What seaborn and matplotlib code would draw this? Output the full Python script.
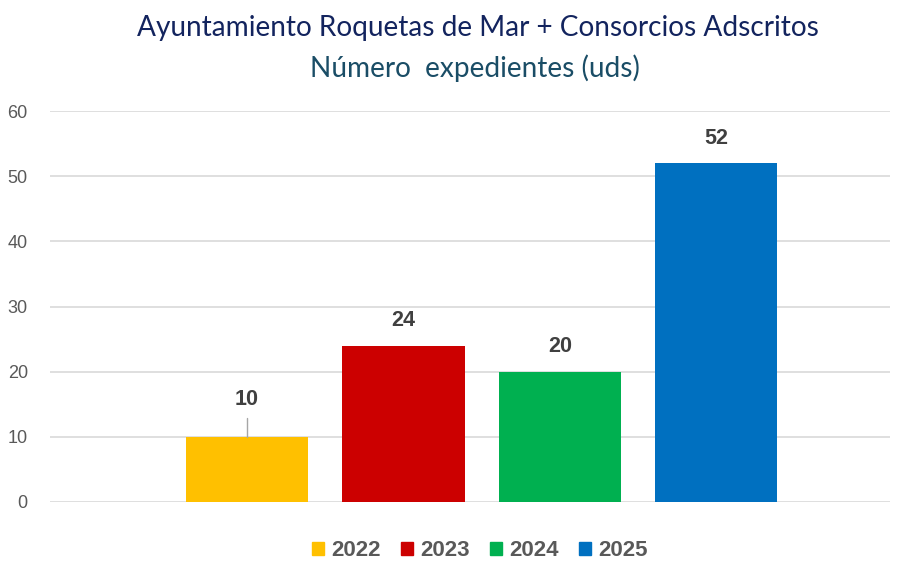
import matplotlib
matplotlib.use("Agg")
import matplotlib.pyplot as plt
import matplotlib.patches as mpatches
import seaborn as sns

years = ["2022", "2023", "2024", "2025"]
expedientes = [10, 24, 20, 52]
colors = ["#FFC000", "#CC0000", "#00B050", "#0070C0"]
title_1 = "Ayuntamiento Roquetas de Mar + Consorcios Adscritos"
title_2 = "Número  expedientes (uds)"

sns.set_style("white")
plt.rcParams["font.family"] = ["Liberation Sans", "DejaVu Sans"]

fig = plt.figure(figsize=(9.02, 5.62), dpi=100)
ax = fig.add_axes([50 / 902, 1 - 502 / 562, 840 / 902, 391 / 562])

sns.barplot(x=years, y=expedientes, hue=years, palette=colors,
            width=0.78, legend=False, ax=ax, saturation=1, linewidth=0)

ax.set_ylim(0, 60)
ax.set_xlim(-1.259, 4.109)
ax.set_yticks(range(0, 61, 10))
ax.yaxis.grid(True, color="#D9D9D9", linewidth=1.2)
ax.set_axisbelow(True)
for s in ax.spines.values():
    s.set_visible(False)
ax.set_xticks([])
ax.tick_params(axis="y", length=0, pad=16, labelsize=13, labelcolor="#595959")

# data labels
for i, v in enumerate(expedientes):
    off = 5.7 if v == 10 else 3.8
    ax.text(i, v + off, str(v), ha="center", va="center", fontsize=15.5,
            fontweight="bold", color="#404040")
# leader line for the first label
ax.plot([0, 0], [expedientes[0], expedientes[0] + 2.9], color="#A6A6A6", lw=1)

fig.text(0.53, 1 - 28 / 562, title_1, ha="center", va="center",
         fontsize=20.2, color="#13245E", family=["Lato", "DejaVu Sans"])
fig.text(0.527, 1 - 68 / 562, title_2, ha="center", va="center",
         fontsize=20.2, color="#1A4D66", family=["Lato", "DejaVu Sans"])

handles = [mpatches.Patch(color=c, label=y) for y, c in zip(years, colors)]
leg = fig.legend(handles=handles, loc="center", bbox_to_anchor=(0.532, 1 - 551 / 562),
                 ncol=4, frameon=False, handlelength=0.55, handleheight=0.55,
                 handletextpad=0.32, columnspacing=0.9,
                 prop={"size": 16, "weight": "bold"})
for t in leg.get_texts():
    t.set_color("#595959")

fig.savefig("out.png", dpi=100)
